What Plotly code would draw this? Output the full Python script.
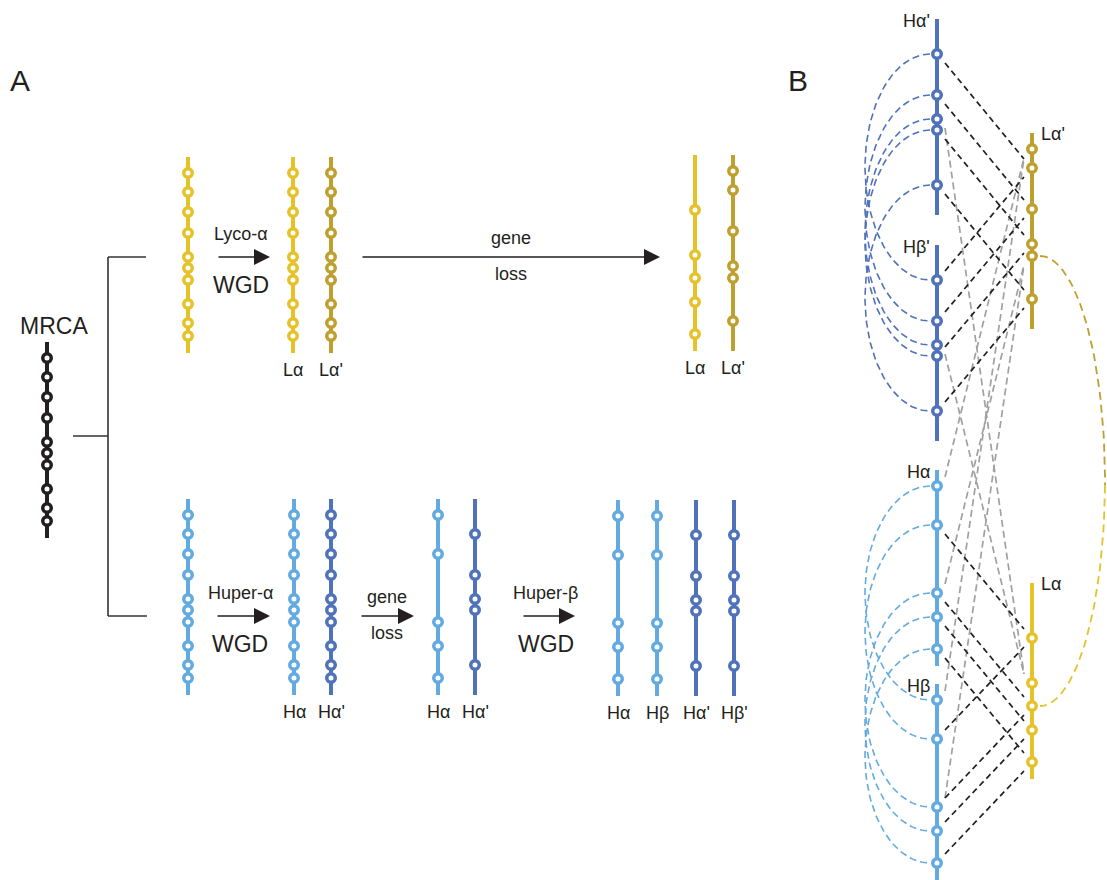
import numpy as np
import plotly.graph_objects as go

# ---------------- data ----------------
GENE_OFFSETS = [16, 35, 55, 76, 100, 111, 123, 147, 166, 179]   # gene positions along a chromosome
CHROM_LEN = 196
ALL_GENES = list(range(10))
LA_KEEP = [2, 4, 6, 7, 9]          # genes retained on L-alpha
LA2_KEEP = [0, 1, 3, 5, 6, 8]      # genes retained on L-alpha'
HA_KEEP = [0, 2, 6, 7, 9]          # genes retained on H-alpha / H-beta
HA2_KEEP = [1, 3, 4, 5, 8]         # genes retained on H-alpha' / H-beta'

COLORS = {"mrca": "#231F20", "La": "#E6C229", "La2": "#BF9F2E",
          "Ha": "#62AAE0", "Ha2": "#5072BA"}
TEXT = "#231F20"
FONT = "Arial"

# panel A chromosomes: (x, top, colour key, genes, label)
CHROMS_A = [
    (47, 342, "mrca", ALL_GENES, None),
    (188, 157, "La", ALL_GENES, None),
    (293, 157, "La", ALL_GENES, "Lα"),
    (331, 157, "La2", ALL_GENES, "Lα'"),
    (695, 155, "La", LA_KEEP, "Lα"),
    (733, 155, "La2", LA2_KEEP, "Lα'"),
    (188, 499, "Ha", ALL_GENES, None),
    (294, 499, "Ha", ALL_GENES, "Hα"),
    (331, 499, "Ha2", ALL_GENES, "Hα'"),
    (438, 499, "Ha", HA_KEEP, "Hα"),
    (475, 499, "Ha2", HA2_KEEP, "Hα'"),
    (618, 500, "Ha", HA_KEEP, "Hα"),
    (657, 500, "Ha", HA_KEEP, "Hβ"),
    (696, 500, "Ha2", HA2_KEEP, "Hα'"),
    (734, 500, "Ha2", HA2_KEEP, "Hβ'"),
]

# panel B chromosomes: name -> (x, top, colour key, genes, label side)
CHROMS_B = {
    "Hα'": (937, 19, "Ha2", HA2_KEEP, "left"),
    "Hβ'": (937, 245, "Ha2", HA2_KEEP, "left"),
    "Lα'": (1032, 133, "La2", LA2_KEEP, "right"),
    "Hα": (937, 470, "Ha", HA_KEEP, "left"),
    "Hβ": (937, 684, "Ha", HA_KEEP, "left"),
    "Lα": (1032, 583, "La", LA_KEEP, "right"),
}
H_NAMES = ["Hα'", "Hβ'", "Hα", "Hβ"]
L_NAMES = ["Lα'", "Lα"]
MATCH = {"Hα'": "Lα'", "Hβ'": "Lα'", "Hα": "Lα", "Hβ": "Lα"}
PARALOG_PAIRS = [("Hα'", "Hβ'", "left"), ("Hα", "Hβ", "left"), ("Lα'", "Lα", "right")]

# tree (cladogram)
TREE_X = 108
TREE_TOP_Y, TREE_BOT_Y, TREE_ROOT_Y = 257, 616, 436

# arrows: (tail x, head x, y, text above, text below)
ARROWS = [
    (217, 270, 257, "Lyco-α", "WGD"),
    (361, 660, 257, "gene", "loss"),
    (216, 270, 616, "Huper-α", "WGD"),
    (360, 414, 616, "gene", "loss"),
    (522, 575, 616, "Huper-β", "WGD"),
]

fig = go.Figure()


def gene_y(top, g):
    return top + GENE_OFFSETS[g]


# ---------------- panel B links ----------------
def link_xy(n1, n2):
    xs, ys = [], []
    x1, t1, _, g1, _ = CHROMS_B[n1]
    x2, t2, _, g2, _ = CHROMS_B[n2]
    for g in sorted(set(g1) & set(g2)):
        ya, yb = gene_y(t1, g), gene_y(t2, g)
        s = np.sign(yb - ya)
        xs += [x1 + 8, x2 - 8, None]
        ys += [ya + 9 * s, yb - 9 * s, None]
    return xs, ys

gx, gy, bx, by = [], [], [], []
for h in H_NAMES:
    for l in L_NAMES:
        xs, ys = link_xy(h, l)
        if MATCH[h] == l:
            bx += xs; by += ys
        else:
            gx += xs; gy += ys

fig.add_trace(go.Scatter(x=gx, y=gy, mode="lines", hoverinfo="skip",
                         line=dict(color="#A0A0A0", width=1.7, dash="7px,4px")))
fig.add_trace(go.Scatter(x=bx, y=by, mode="lines", hoverinfo="skip",
                         line=dict(color="#231F20", width=1.7, dash="6px,4px")))

# paralog arcs
t = np.linspace(0, np.pi, 80)
for n1, n2, side in PARALOG_PAIRS:
    x1, t1, c1, g1, _ = CHROMS_B[n1]
    x2, t2, c2, g2, _ = CHROMS_B[n2]
    for g in sorted(set(g1) & set(g2)):
        ya, yb = gene_y(t1, g), gene_y(t2, g)
        cy, ry = (ya + yb) / 2, (yb - ya) / 2
        if side == "left":
            cx, rx = x1 - 7, 65
            xs = cx - rx * np.sin(t)
            ys = cy - ry * np.cos(t)
            fig.add_trace(go.Scatter(x=xs, y=ys, mode="lines", hoverinfo="skip",
                                     line=dict(color=COLORS[c1], width=1.6, dash="7px,4px")))
        else:
            cx, rx = x1 + 8, 65
            xs = cx + rx * np.sin(t)
            ys = cy - ry * np.cos(t)
            half = len(t) // 2
            fig.add_trace(go.Scatter(x=xs[:half + 1], y=ys[:half + 1], mode="lines", hoverinfo="skip",
                                     line=dict(color=COLORS[c1], width=1.8, dash="8px,5px")))
            fig.add_trace(go.Scatter(x=xs[half:], y=ys[half:], mode="lines", hoverinfo="skip",
                                     line=dict(color=COLORS[c2], width=1.8, dash="8px,5px")))

# ---------------- tree ----------------
fig.add_trace(go.Scatter(
    x=[TREE_X, TREE_X, None, TREE_X, 146, None, TREE_X, 147, None, 73, TREE_X],
    y=[TREE_TOP_Y, TREE_BOT_Y, None, TREE_TOP_Y, TREE_TOP_Y, None, TREE_BOT_Y, TREE_BOT_Y, None,
       TREE_ROOT_Y, TREE_ROOT_Y],
    mode="lines", hoverinfo="skip", line=dict(color="#333333", width=1.6)))

# ---------------- chromosomes ----------------
all_chroms = [(x, top, c, g) for x, top, c, g, _ in CHROMS_A] + \
             [(v[0], v[1], v[2], v[3]) for v in CHROMS_B.values()]
for ckey in COLORS:
    lx, ly, mx, my = [], [], [], []
    for x, top, c, genes in all_chroms:
        if c != ckey:
            continue
        lx += [x, x, None]
        ly += [top, top + CHROM_LEN, None]
        for g in genes:
            mx.append(x)
            my.append(gene_y(top, g))
    fig.add_trace(go.Scatter(x=lx, y=ly, mode="lines", hoverinfo="skip",
                             line=dict(color=COLORS[ckey], width=4)))
    fig.add_trace(go.Scatter(x=mx, y=my, mode="markers", hoverinfo="skip",
                             marker=dict(size=8.5, color="white",
                                         line=dict(color=COLORS[ckey], width=3.5))))

# ---------------- text ----------------
ann = []


def txt(x, y, s, size, anchor="center"):
    ann.append(dict(x=x, y=y, text=s, showarrow=False, xanchor=anchor, yanchor="middle",
                    font=dict(family=FONT, size=size, color=TEXT)))

txt(20, 80, "A", 30)
txt(798, 80, "B", 30)
txt(54, 326, "MRCA", 23)

for x, top, c, g, lab in CHROMS_A:
    if lab:
        txt(x, top + CHROM_LEN + 17, lab, 18)

for name, (x, top, c, g, side) in CHROMS_B.items():
    if side == "left":
        txt(x - 5, top + 2, name, 18, "right")
    else:
        txt(x + 7, top + 1, name, 18, "left")

for x0, x1, y, above, below in ARROWS:
    xm = (x0 + x1) / 2
    if below == "WGD":
        txt(xm - 3, y - 23, above, 18)
        txt(xm - 3, y + 28, below, 23)
    else:
        txt(xm, y - 19, above, 18)
        txt(xm, y + 17, below, 18)
    ann.append(dict(x=x1, y=y, ax=x0, ay=y, xref="x", yref="y", axref="x", ayref="y",
                    showarrow=True, arrowhead=2, arrowsize=2.0, arrowwidth=1.6,
                    arrowcolor="#231F20", standoff=0, startstandoff=0, text=""))

fig.update_layout(
    width=1107, height=880, margin=dict(l=0, r=0, t=0, b=0),
    plot_bgcolor="white", paper_bgcolor="white", showlegend=False,
    xaxis=dict(range=[0, 1107], visible=False, fixedrange=True),
    yaxis=dict(range=[880, 0], visible=False, fixedrange=True),
    annotations=ann,
)

fig.write_html("out.html", config={"displayModeBar": False},
               post_script="document.body.style.margin='0px';document.body.style.overflow='hidden';")
